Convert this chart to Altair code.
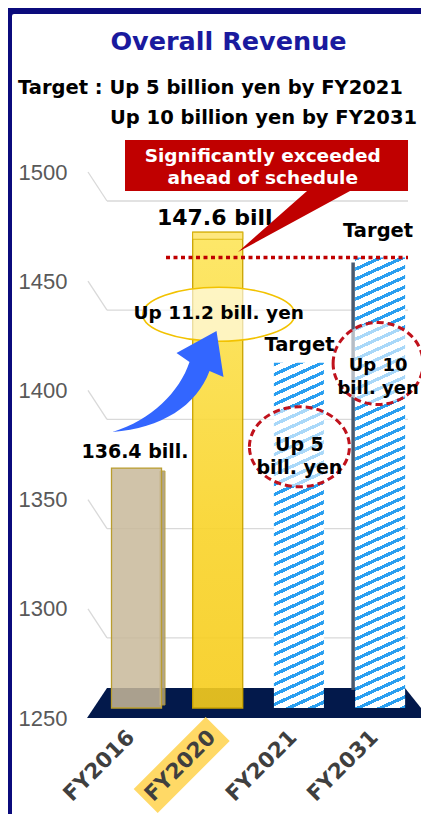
import altair as alt
import pandas as pd

# ---------------- data ----------------
CATS = ["FY2016", "FY2020", "FY2021", "FY2031"]
REVENUE = [1364, 1476, 1414, 1464]          # 100 million yen
BAR_LABELS = ["136.4 bill.", "147.6 bill", "Target", "Target"]
BASE = 1250
Y_TICKS = [1250, 1300, 1350, 1400, 1450, 1500]
GRID_LEVELS = [1300, 1350, 1400, 1450, 1500]
TITLE = "Overall Revenue"
SUBTITLE = ["Target : Up 5 billion yen by FY2021", "Up 10 billion yen by FY2031"]
CALLOUT = ["Significantly exceeded", "ahead of schedule"]
NOTES = ["Up 11.2 bill. yen", "Up 5\nbill. yen", "Up 10\nbill. yen"]

# ---------------- layout ----------------
W, H = 333, 546
STEP = 81.2
P_IN = 0.384
P_OUT = ((W / STEP) - len(CATS) + P_IN) / 2
ALIGN = 23.5 / (2 * P_OUT * STEP)
YB_DOM = [1245.25, 1504.63]      # front (bar) scale of the 3D chart
YA_DOM = [1250, 1500]            # back-wall (axis) scale

bars = pd.DataFrame({"cat": CATS, "v": REVENUE, "base": BASE, "label": BAR_LABELS})
def row(c):
    return bars[bars.cat == c].reset_index(drop=True)

X_SCALE = alt.Scale(domain=CATS, paddingInner=P_IN, paddingOuter=P_OUT, align=ALIGN)
X_AXIS = alt.Axis(labelAngle=-45, labelAlign="right", labelBaseline="middle",
                  labelFont="DejaVu Sans", labelFontWeight="bold", labelFontSize=21.5,
                  labelColor="#3f3f3f", ticks=False, tickSize=0, domain=False,
                  grid=False, labelPadding=16, labelOffset=-5, title=None, zindex=1)
X = alt.X("cat:N", scale=X_SCALE, axis=X_AXIS)
YB = alt.Scale(domain=YB_DOM, nice=False, zero=False)
YA = alt.Scale(domain=YA_DOM, nice=False, zero=False)
def yb(f):
    return alt.Y(f, type="quantitative", scale=YB, axis=None)

FONT = "DejaVu Sans"
one = pd.DataFrame({"a": [0]})

# hatch pattern as a striped linear gradient
BW = STEP * (1 - P_IN)
K = H / (YB_DOM[1] - YB_DOM[0])
def hatch(value, slope=0.45, period=10.0, frac=0.36, blue="#2a9ff0"):
    w, h = BW, (value - BASE) * K
    S = slope * w + h
    c = S / ((slope * w) ** 2 + h ** 2)
    p = period / S
    stops, k = [], 0
    while k * p < 1:
        a = round(k * p, 5)
        b = round(min((k + frac) * p, 1), 5)
        e = round(min((k + 1) * p, 1), 5)
        stops += [alt.GradientStop(color=blue, offset=a), alt.GradientStop(color=blue, offset=b),
                  alt.GradientStop(color="white", offset=b), alt.GradientStop(color="white", offset=e)]
        k += 1
    return alt.LinearGradient(gradient="linear", stops=stops, x1=0, y1=0,
                              x2=round(slope * w * c, 5), y2=round(h * c, 5))

GOLD = alt.LinearGradient(gradient="linear", x1=0, y1=0, x2=0, y2=1, stops=[
    alt.GradientStop(color="#fde55a", offset=0), alt.GradientStop(color="#f9d42a", offset=0.6),
    alt.GradientStop(color="#f6cc1c", offset=1)])

def ellipse(rx, ry):
    return f"M {-rx} 0 A {rx} {ry} 0 1 1 {rx} 0 A {rx} {ry} 0 1 1 {-rx} 0 Z"

FLOOR_PATH = "M -110.7 -20 L 187.3 -20 L 211.3 10 L -130.7 10 Z"
HL_PATH = "M 12 23 L -12 -1 L -84 71 L -60 95 Z"
ARROW_PATH = "M -24 -36 C 15 -48 43 -76 53 -106 L 40 -115 L 80 -137 L 87 -91 L 73 -97 C 60 -62 25 -40 -24 -36 Z"
CALLOUT_PATH = ("M -92.7 -92.3 L 190.3 -92.3 L 190.3 -41.3 L 132.3 -41.3 L 20.3 19.7 "
                "L 89.3 -41.3 L -92.7 -41.3 Z")

def shape(df, path, yscale=YB, field="v", **kw):
    base_kw = dict(shape=path, size=4, filled=True, opacity=1)
    base_kw.update(kw)
    return alt.Chart(df).mark_point(**base_kw).encode(
        x=X, y=alt.Y(field, type="quantitative", scale=yscale, axis=None))

def label(df, text, dx, dy, size=18, color="black", **kw):
    d = df.assign(t=text)
    return alt.Chart(d).mark_text(font=FONT, fontWeight="bold", fontSize=size, color=color,
                                  dx=dx, dy=dy, **kw).encode(x=X, y=yb("v"), text="t:N")

# ---------------- layers ----------------
frame = alt.Chart(one).mark_rect(fillOpacity=0, stroke="#0b0b7c", strokeWidth=8,
                                 cornerRadius=6).encode(
    x=alt.value(-80), x2=alt.value(380), y=alt.value(-162), y2=alt.value(700))

title = alt.Chart(pd.DataFrame({"t": [TITLE]})).mark_text(
    font=FONT, fontWeight="bold", fontSize=25.5, color="#1a1a9e",
    baseline="alphabetic", align="center").encode(
    x=alt.value(140.5), y=alt.value(-122.5), text="t:N")
sub1 = alt.Chart(pd.DataFrame({"t": [SUBTITLE[0]]})).mark_text(
    font=FONT, fontWeight="bold", fontSize=19.5, color="black", baseline="alphabetic",
    align="left").encode(x=alt.value(-70), y=alt.value(-78), text="t:N")
sub2 = alt.Chart(pd.DataFrame({"t": [SUBTITLE[1]]})).mark_text(
    font=FONT, fontWeight="bold", fontSize=19.5, color="black", baseline="alphabetic",
    align="left").encode(x=alt.value(22), y=alt.value(-48), text="t:N")

grid_df = pd.DataFrame({"v": GRID_LEVELS})
grid_h = alt.Chart(grid_df).mark_rule(color="#d9d9d9", strokeWidth=1.3, yOffset=29).encode(
    y=alt.Y("v:Q", scale=YA, axis=alt.Axis(values=Y_TICKS, format="d",
                                           labelFont="Liberation Sans",
                                           labelFontSize=22, labelColor="#595959",
                                           ticks=False, tickSize=0, domain=False, grid=False,
                                           labelPadding=21, title=None)),
    x=alt.value(19), x2=alt.value(320))
grid_d = alt.Chart(grid_df).mark_rule(color="#d9d9d9", strokeWidth=1.3, y2Offset=29).encode(
    y=alt.Y("v:Q", scale=YA, axis=None), y2=alt.Y2("v:Q"), x=alt.value(0), x2=alt.value(19))

floor = shape(row("FY2020"), FLOOR_PATH, field="base", fill="#03194b", strokeWidth=0)
highlight = shape(row("FY2020"), HL_PATH, yscale=YA, field="base", fill="#ffd966",
                  strokeWidth=0)

def bar(df, **kw):
    return alt.Chart(df).mark_bar(**kw).encode(x=X, y=yb("v"), y2=alt.Y2("base:Q"))

b16_side = alt.Chart(row("FY2016")).mark_bar(width=5, xOffset=26, yOffset=3, y2Offset=-3,
                                              fill="#a89b7e", stroke="#b89c30", strokeWidth=1,
                                              opacity=0.9).encode(x=X, y=yb("v"), y2=alt.Y2("base:Q"))
b16 = bar(row("FY2016"), fill="#c8b99a", fillOpacity=0.85, stroke="#b99d2e", strokeWidth=1.3)
b20 = bar(row("FY2020"), fill=GOLD, fillOpacity=0.9, stroke="#c9a300", strokeWidth=1.3)
b20_top = alt.Chart(row("FY2020")).mark_bar(y2Offset=7, fill="#fee77e", stroke="#d6ae00",
                                             strokeWidth=0.8).encode(x=X, y=yb("v"), y2=alt.Y2("v:Q"))
b21 = bar(row("FY2021"), fill=hatch(REVENUE[2]))
b31_side = alt.Chart(row("FY2031")).mark_bar(width=3.5, xOffset=-27, yOffset=5, y2Offset=-18,
                                              fill="#4a5a70").encode(x=X, y=yb("v"), y2=alt.Y2("base:Q"))
b31 = bar(row("FY2031"), fill=hatch(REVENUE[3]))

dotted = alt.Chart(row("FY2031")).mark_rule(color="#c00000", strokeWidth=3.5,
                                            strokeDash=[4, 3.5]).encode(
    y=yb("v"), x=alt.value(78), x2=alt.value(320))

e1 = shape(row("FY2020"), ellipse(76, 27), fill="white", fillOpacity=0.62, stroke="#f2c200",
           strokeWidth=1.6, strokeOpacity=1, yOffset=82, xOffset=1)
e2 = shape(row("FY2021"), ellipse(50, 40), fill="white", fillOpacity=0.6, stroke="#c0121c",
           strokeWidth=3, strokeOpacity=1, strokeDash=[7, 4], yOffset=84, xOffset=0.5)
e3 = shape(row("FY2031"), ellipse(45, 41), fill="white", fillOpacity=0.6, stroke="#c0121c",
           strokeWidth=3, strokeOpacity=1, strokeDash=[7, 4], yOffset=106, xOffset=-2)
arrow = shape(row("FY2016"), ARROW_PATH, fill="#3366ff", strokeWidth=0)

t16 = label(row("FY2016"), BAR_LABELS[0], -1.5, -16, size=19)
t20 = label(row("FY2020"), BAR_LABELS[1], -3, -14, size=22)
t21 = label(row("FY2021"), BAR_LABELS[2], 0.5, -18, size=19.5)
t31 = label(row("FY2031"), BAR_LABELS[3], -2, -27, size=19.5)
n1 = label(row("FY2020"), NOTES[0], 1, 81, size=18.5)
n2 = label(row("FY2021"), NOTES[1], 0.5, 82.5, size=19, lineBreak="\n", lineHeight=23)
n3 = label(row("FY2031"), NOTES[2], -2, 108, size=18, lineBreak="\n", lineHeight=23)

callout = shape(row("FY2020"), CALLOUT_PATH, fill="#c00000", strokeWidth=0)
c1 = label(row("FY2020"), CALLOUT[0], 45, -70, size=18.5, color="white", baseline="alphabetic")
c2 = label(row("FY2020"), CALLOUT[1], 45, -48, size=18.5, color="white", baseline="alphabetic")

chart = alt.layer(
    frame, title, sub1, sub2, grid_h, grid_d, floor, highlight,
    b16_side, b16, b20, b20_top, b21, b31_side, b31, dotted,
    e1, e2, e3, arrow, t16, t20, t21, t31, n1, n2, n3, callout, c1, c2,
).resolve_scale(y="independent").properties(
    width=W, height=H, background="white",
    autosize=alt.AutoSizeParams(type="none"),
    padding={"left": 80, "top": 164, "right": 0, "bottom": 96},
).configure_view(strokeWidth=0)

chart.save("out.html", embed_options={"renderer": "svg", "actions": False})
